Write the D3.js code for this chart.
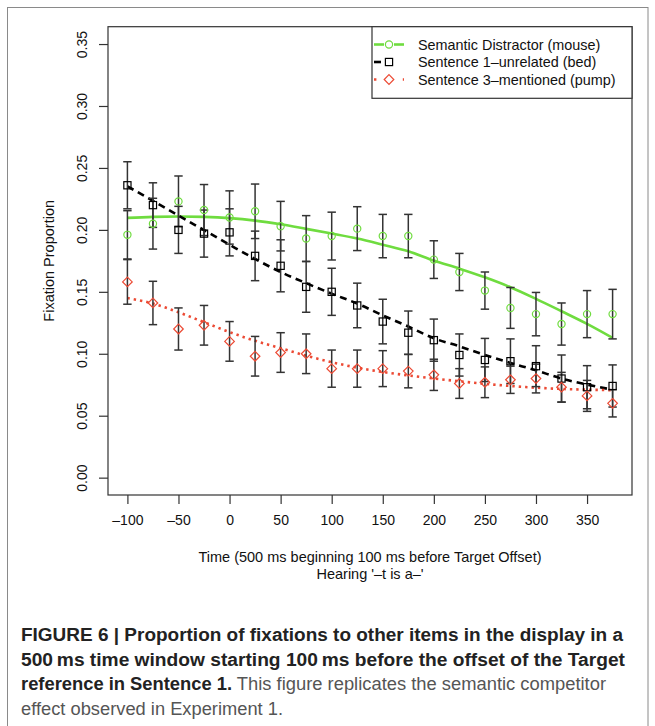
<!DOCTYPE html>
<meta charset="utf-8">
<style>
body { margin: 0; background: #fff; }
svg text { font-family: "Liberation Sans", Arial, sans-serif; fill: #111; }
.axis text { font-size: 14px; }
.axis line { stroke: #333; stroke-width: 1.2; }
.errbar line { stroke: #333; stroke-width: 1.5; }
</style>
<svg id="chart" width="655" height="726"></svg>
<script src="https://d3js.org/d3.v7.min.js"></script>
<script>

// time bins (ms)
var times = [-100, -75, -50, -25, 0, 25, 50, 75, 100, 125, 150, 175, 200, 225, 250, 275, 300, 325, 350, 375];

// observed proportions
var mouseVals = [0.196, 0.205, 0.223, 0.216, 0.210, 0.215, 0.203, 0.193, 0.195, 0.201, 0.195, 0.195, 0.176, 0.166, 0.151, 0.137, 0.132, 0.124, 0.132, 0.132];
var bedVals   = [0.236, 0.220, 0.200, 0.197, 0.198, 0.179, 0.171, 0.154, 0.150, 0.139, 0.126, 0.117, 0.111, 0.099, 0.095, 0.094, 0.090, 0.080, 0.073, 0.074];
var pumpVals  = [0.158, 0.141, 0.120, 0.123, 0.110, 0.098, 0.101, 0.100, 0.088, 0.088, 0.088, 0.086, 0.083, 0.076, 0.077, 0.079, 0.080, 0.073, 0.066, 0.060];

// standard errors
var mouseErr = [0.0195, 0.0205, 0.0205, 0.0206, 0.0215, 0.022, 0.020, 0.0185, 0.0193, 0.0177, 0.0175, 0.0175, 0.0152, 0.015, 0.015, 0.0165, 0.0175, 0.017, 0.019, 0.020];
var bedErr   = [0.019, 0.018, 0.019, 0.019, 0.019, 0.020, 0.021, 0.0205, 0.019, 0.018, 0.018, 0.0175, 0.017, 0.017, 0.0174, 0.018, 0.0165, 0.019, 0.0174, 0.017];
var pumpErr  = [0.018, 0.0175, 0.017, 0.016, 0.016, 0.016, 0.016, 0.016, 0.015, 0.015, 0.0145, 0.0135, 0.0126, 0.012, 0.0124, 0.011, 0.0116, 0.012, 0.0125, 0.011];

// fitted curves, read at each bin
var mouseFit = [0.2097, 0.2105, 0.2108, 0.2105, 0.2095, 0.2075, 0.2045, 0.2008, 0.197, 0.193, 0.188, 0.1827, 0.1752, 0.1687, 0.1617, 0.1537, 0.1443, 0.1343, 0.1241, 0.1128];
var bedFit   = [0.2352, 0.2234, 0.2116, 0.1998, 0.188, 0.1765, 0.166, 0.157, 0.1485, 0.1405, 0.131, 0.122, 0.1125, 0.106, 0.099, 0.0926, 0.0866, 0.080, 0.0751, 0.071];
var pumpFit  = [0.145, 0.1405, 0.1335, 0.1255, 0.1175, 0.1105, 0.1045, 0.0985, 0.0932, 0.0888, 0.0853, 0.0825, 0.080, 0.0778, 0.0757, 0.074, 0.0726, 0.0716, 0.071, 0.0706];

var seriesNames = ["Semantic Distractor (mouse)", "Sentence 1\u2013unrelated (bed)", "Sentence 3\u2013mentioned (pump)"];

var xTicks = [-100, -50, 0, 50, 100, 150, 200, 250, 300, 350];
var yTicks = [0, 0.05, 0.10, 0.15, 0.20, 0.25, 0.30, 0.35];

var xTitle = ["Time (500 ms beginning 100 ms before Target Offset)", "Hearing '\u2013t is a\u2013'"];
var yTitle = "Fixation Proportion";

var caption = [
  [{t: "FIGURE 6 | Proportion of fixations to other items in the display in a", b: true}],
  [{t: "500\u2009ms time window starting 100\u2009ms before the offset of the Target", b: true}],
  [{t: "reference in Sentence 1.", b: true}, {t: " This figure replicates the semantic competitor", b: false}],
  [{t: "effect observed in Experiment 1.", b: false}]
];
var captionWidths = [602, 604, 585, 262];

var series = [
  {name: seriesNames[0], vals: mouseVals, err: mouseErr, fit: mouseFit, color: "#6fdc3f", shape: "circle", dash: null},
  {name: seriesNames[1], vals: bedVals, err: bedErr, fit: bedFit, color: "#000", shape: "square", dash: "7,5"},
  {name: seriesNames[2], vals: pumpVals, err: pumpErr, fit: pumpFit, color: "#ec4a34", shape: "diamond", dash: "2.4,4"}
];

var plotLeft = 108, plotRight = 632, plotTop = 26.7, plotBottom = 495;

var x = d3.scaleLinear().domain([-119, 394]).range([plotLeft, plotRight]);
var y = d3.scaleLinear().domain([-0.014, 0.364]).range([plotBottom, plotTop]);

var svg = d3.select("#chart");

svg.append("rect").attr("width", 655).attr("height", 726).attr("fill", "#fff");

// outer figure frame
svg.append("rect")
    .attr("x", 7.5).attr("y", 7.5)
    .attr("width", 640.5).attr("height", 760)
    .attr("fill", "none").attr("stroke", "#8a8a8a").attr("stroke-width", 1);

// axes
var xAxis = svg.append("g").attr("class", "axis")
    .attr("transform", "translate(0," + plotBottom + ")")
    .call(d3.axisBottom(x).tickValues(xTicks).tickSize(9).tickPadding(11)
      .tickFormat(function(d) { return d < 0 ? "\u2013" + (-d) : d; }));
xAxis.select(".domain").remove();

var yAxis = svg.append("g").attr("class", "axis")
    .attr("transform", "translate(" + plotLeft + ",0)")
    .call(d3.axisLeft(y).tickValues(yTicks).tickSize(9).tickFormat(d3.format(".2f")));
yAxis.select(".domain").remove();
yAxis.selectAll("text")
    .attr("x", null).attr("dy", null)
    .attr("text-anchor", "middle")
    .attr("transform", "translate(-21.5,0) rotate(-90)");

svg.append("rect")
    .attr("x", plotLeft).attr("y", plotTop)
    .attr("width", plotRight - plotLeft).attr("height", plotBottom - plotTop)
    .attr("fill", "none").attr("stroke", "#333").attr("stroke-width", 1.2);

// axis titles
svg.selectAll(".xtitle")
    .data(xTitle)
  .enter().append("text")
    .attr("class", "xtitle")
    .attr("x", (plotLeft + plotRight) / 2)
    .attr("y", function(d, i) { return 562 + i * 17; })
    .attr("text-anchor", "middle")
    .style("font-size", "14.5px")
    .text(function(d) { return d; });

svg.append("text")
    .attr("transform", "translate(54," + (plotTop + plotBottom) / 2 + ") rotate(-90)")
    .attr("text-anchor", "middle")
    .style("font-size", "14.5px")
    .text(yTitle);

// fitted lines
var line = d3.line()
    .x(function(d, i) { return x(times[i]); })
    .y(function(d) { return y(d); })
    .curve(d3.curveMonotoneX);

svg.selectAll(".fit")
    .data(series)
  .enter().append("path")
    .attr("class", "fit")
    .attr("d", function(s) { return line(s.fit); })
    .attr("fill", "none")
    .attr("stroke", function(s) { return s.color; })
    .attr("stroke-width", 2.6)
    .attr("stroke-dasharray", function(s) { return s.dash; });

// error bars
var capW = 4.2;
series.forEach(function(s) {
  var g = svg.append("g").attr("class", "errbar");
  var bars = g.selectAll("g")
      .data(s.vals)
    .enter().append("g")
      .attr("transform", function(d, i) { return "translate(" + x(times[i]) + ",0)"; });
  bars.append("line")
      .attr("y1", function(d, i) { return y(d - s.err[i]); })
      .attr("y2", function(d, i) { return y(d + s.err[i]); });
  bars.append("line")
      .attr("x1", -capW).attr("x2", capW)
      .attr("y1", function(d, i) { return y(d + s.err[i]); })
      .attr("y2", function(d, i) { return y(d + s.err[i]); });
  bars.append("line")
      .attr("x1", -capW).attr("x2", capW)
      .attr("y1", function(d, i) { return y(d - s.err[i]); })
      .attr("y2", function(d, i) { return y(d - s.err[i]); });
});

// point markers
function marker(sel, shape, color) {
  if (shape === "circle") {
    sel.append("circle").attr("r", 3.6);
  } else if (shape === "square") {
    sel.append("rect").attr("x", -3.6).attr("y", -3.6).attr("width", 7.2).attr("height", 7.2);
  } else {
    sel.append("path").attr("d", "M0,-4.8L4.8,0L0,4.8L-4.8,0Z");
  }
  sel.selectAll("*").attr("fill", "none").attr("stroke", color).attr("stroke-width", 1.2);
}

series.forEach(function(s) {
  svg.append("g").selectAll("g")
      .data(s.vals)
    .enter().append("g")
      .attr("transform", function(d, i) { return "translate(" + x(times[i]) + "," + y(d) + ")"; })
      .each(function() { marker(d3.select(this), s.shape, s.color); });
});

// legend
var lg = svg.append("g");
lg.append("rect")
    .attr("x", 372).attr("y", plotTop)
    .attr("width", plotRight - 372).attr("height", 98.3 - plotTop)
    .attr("fill", "#fff").attr("stroke", "#333").attr("stroke-width", 1.2);

var items = lg.selectAll(".item")
    .data(series)
  .enter().append("g")
    .attr("class", "item")
    .attr("transform", function(d, i) { return "translate(0," + (49.5 + i * 17.5) + ")"; });

items.append("line")
    .attr("x1", 374).attr("x2", 404)
    .attr("y1", -5).attr("y2", -5)
    .attr("stroke", function(s) { return s.color; })
    .attr("stroke-width", 2.6)
    .attr("stroke-dasharray", function(s) { return s.dash ? (s.shape === "square" ? "7,30" : "2.4,12") : null; });
items.each(function(s) {
  var m = d3.select(this).append("g").attr("transform", "translate(389,-5)");
  m.append("rect").attr("x", -5).attr("y", -5).attr("width", 10).attr("height", 10).attr("fill", "#fff");
  marker(m, s.shape, s.color);
  m.select("rect").attr("fill", "#fff").attr("stroke", "none");
});
items.append("text")
    .attr("x", 418)
    .style("font-size", "14.4px")
    .text(function(s) { return s.name; });

// caption
var capG = svg.append("g");
caption.forEach(function(parts, i) {
  var t = capG.append("text")
      .attr("x", 21)
      .attr("y", 641 + i * 24.5)
      .attr("textLength", captionWidths[i])
      .attr("lengthAdjust", "spacingAndGlyphs")
      .style("font-size", "17.5px");
  parts.forEach(function(p) {
    t.append("tspan")
        .style("font-weight", p.b ? "bold" : "normal")
        .style("fill", p.b ? "#222" : "#555")
        .text(p.t);
  });
});

</script>
